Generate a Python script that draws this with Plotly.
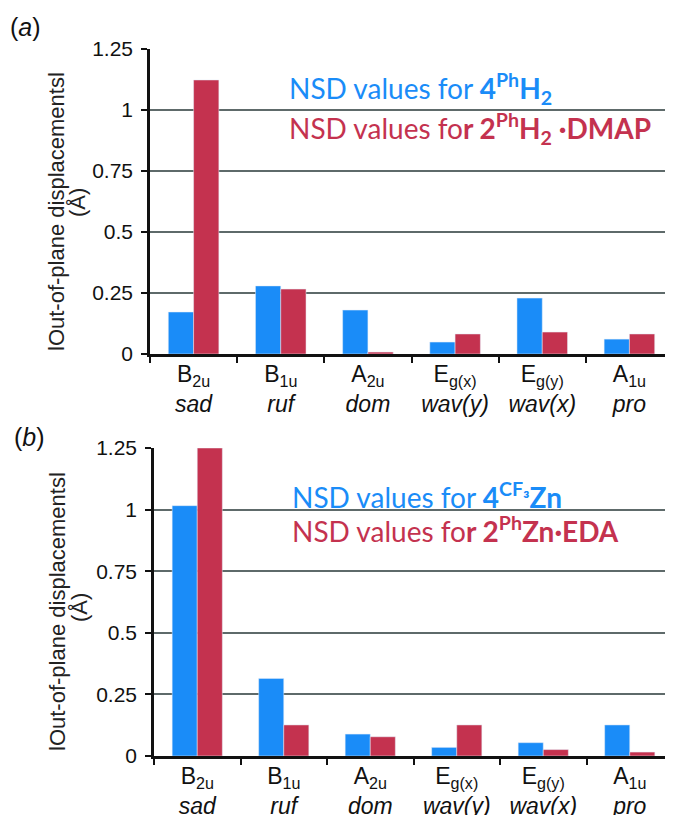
import plotly.graph_objects as go

# ---- data ----
categories = ["B2u", "B1u", "A2u", "Eg(x)", "Eg(y)", "A1u"]
symmetry_labels = ["B<sub>2u</sub>", "B<sub>1u</sub>", "A<sub>2u</sub>",
                   "E<sub>g(x)</sub>", "E<sub>g(y)</sub>", "A<sub>1u</sub>"]
mode_names = ["sad", "ruf", "dom", "wav(y)", "wav(x)", "pro"]

a_4PhH2 = [0.172, 0.279, 0.180, 0.049, 0.229, 0.061]
a_2PhH2_DMAP = [1.123, 0.266, 0.008, 0.082, 0.090, 0.082]

b_4CF3Zn = [1.016, 0.315, 0.089, 0.035, 0.054, 0.126]
b_2PhZn_EDA = [1.25, 0.126, 0.078, 0.126, 0.026, 0.016]

y_ticks = [0, 0.25, 0.5, 0.75, 1, 1.25]
y_ticktext = ["0", "0.25", "0.5", "0.75", "1", "1.25"]

BLUE = "#1a8cf8"
RED = "#c4324f"
# the page body has an 8px margin; the figure starts at (8, 8) in the window
OFF = 8
W, H = 673 - OFF, 815 - OFF

ticktext = [f"{s}<br><i>{m}</i>" for s, m in zip(symmetry_labels, mode_names)]

fig = go.Figure()
fig.add_trace(go.Bar(x=categories, y=a_4PhH2, marker_color=BLUE, xaxis="x", yaxis="y", showlegend=False))
fig.add_trace(go.Bar(x=categories, y=a_2PhH2_DMAP, marker_color=RED, xaxis="x", yaxis="y", showlegend=False))
fig.add_trace(go.Bar(x=categories, y=b_4CF3Zn, marker_color=BLUE, xaxis="x2", yaxis="y2", showlegend=False))
fig.add_trace(go.Bar(x=categories, y=b_2PhZn_EDA, marker_color=RED, xaxis="x2", yaxis="y2", showlegend=False))

def px_x(p):
    return (p - OFF) / W

def px_y(p):
    return 1 - (p - OFF) / H

font_main = "Liberation Sans, Arial, sans-serif"
tick_font = dict(family=font_main, size=21, color="#111")
xtick_font = dict(family=font_main, size=23, color="#111")

def xaxis(domain, anchor):
    return dict(domain=domain, anchor=anchor, type="category", tickmode="array",
                tickvals=categories, ticktext=ticktext, tickson="boundaries",
                ticks="outside", ticklen=6, tickwidth=2, tickcolor="#111",
                showline=True, linecolor="#111", linewidth=2.5, showgrid=False,
                tickfont=xtick_font, fixedrange=True, automargin=False,
                ticklabelstandoff=-2)

def yaxis(domain, anchor):
    return dict(domain=domain, anchor=anchor, range=[0, 1.25], tickmode="array",
                tickvals=y_ticks, ticktext=y_ticktext, ticks="outside", ticklen=6,
                tickwidth=2, tickcolor="#111", showline=True, linecolor="#111",
                linewidth=2.5, showgrid=True, gridcolor="#5e6a6a", gridwidth=1.6,
                zeroline=False, tickfont=tick_font, fixedrange=True, automargin=False,
                ticklabelstandoff=4)

fig.update_layout(
    width=W, height=H,
    margin=dict(l=0, r=0, t=0, b=0),
    paper_bgcolor="white", plot_bgcolor="white",
    barmode="group", bargap=0.42, bargroupgap=0,
    xaxis=xaxis([px_x(150), 1], "y"),
    yaxis=yaxis([px_y(354), px_y(49)], "x"),
    xaxis2=xaxis([px_x(154), 1], "y2"),
    yaxis2=yaxis([px_y(756), px_y(448)], "x2"),
)

ann = []
legend_font = "Lato, Open Sans, sans-serif"
def txt(x, y, text, size, color, family=font_main, angle=0, xanchor="center"):
    ann.append(dict(x=px_x(x), y=px_y(y), xref="paper", yref="paper", text=text,
                    showarrow=False, xanchor=xanchor, yanchor="middle", textangle=angle,
                    font=dict(family=family, size=size, color=color)))

# panel labels
txt(25, 27, "(<i>a</i>)", 25, "#111")
txt(29, 437, "(<i>b</i>)", 25, "#111")

# y titles (title line, then the overlapping unit line)
for (cx1, cy1, cx2, cy2) in [(57, 212, 77, 203), (57, 612, 79, 608)]:
    txt(cx1, cy1, "lOut-of-plane displacementsl", 22, "#222", angle=-90)
    txt(cx2, cy2, "(Å)", 22, "#222", angle=-90)

# in-plot legends
txt(287, 89, "NSD values for <b>4<sup>Ph</sup>H<sub>2</sub></b>", 28, BLUE, legend_font, xanchor="left")
txt(287, 129, "NSD values fo<b>r 2<sup>Ph</sup>H<sub>2</sub> ·DMAP</b>", 28, RED, legend_font, xanchor="left")
txt(290, 495, "NSD values for <b>4<sup>CF₃</sup>Zn</b>", 28, BLUE, legend_font, xanchor="left")
txt(290, 529, "NSD values fo<b>r 2<sup>Ph</sup>Zn·EDA</b>", 28, RED, legend_font, xanchor="left")

fig.update_layout(annotations=ann)
fig.write_html("out.html")
